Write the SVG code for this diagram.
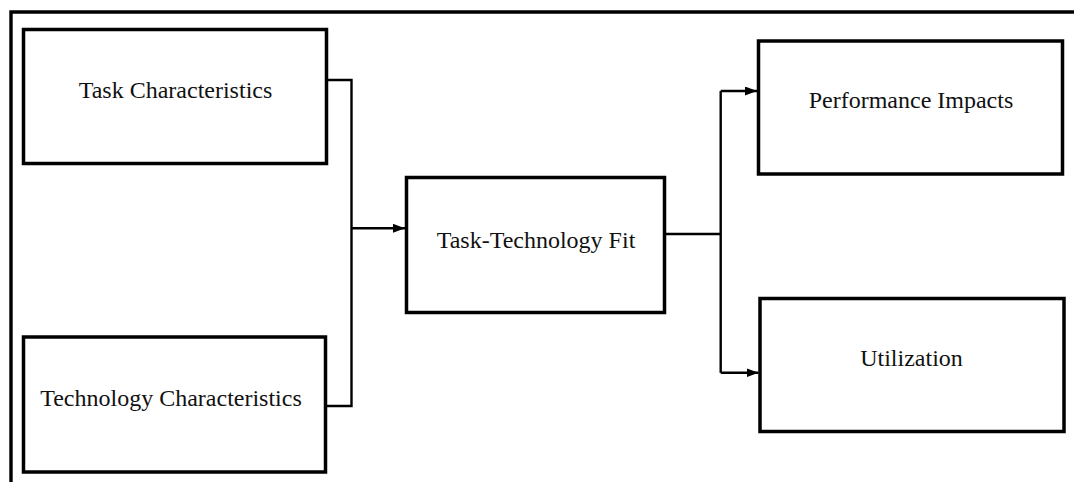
<svg xmlns="http://www.w3.org/2000/svg" width="1074" height="482" viewBox="0 0 1074 482">
<style>
.box{fill:#fff;stroke:#000;stroke-width:3.5}
.lbl{font-family:"Liberation Serif","Times New Roman",serif;font-size:24px;fill:#111;text-anchor:middle}
.con{fill:none;stroke:#000;stroke-width:2.4}
</style>
<defs>
<marker id="ah" markerWidth="12" markerHeight="9" refX="12" refY="4.5" orient="auto" markerUnits="userSpaceOnUse">
<path d="M0,0 L12,4.5 L0,9 Z" fill="#000"/>
</marker>
</defs>
<rect width="1074" height="482" fill="#fff"/>
<path d="M11,482 V12 H1074" fill="none" stroke="#000" stroke-width="3.4"/>
<g id="connectors">
<path class="con" d="M327,80 H351.5 V406 H327"/>
<path class="con" d="M351.5,228.3 H405" marker-end="url(#ah)"/>
<path class="con" d="M664,234 H720.7"/>
<path class="con" d="M720.7,91 V372.7"/>
<path class="con" d="M720.7,91 H757" marker-end="url(#ah)"/>
<path class="con" d="M720.7,372.7 H758.5" marker-end="url(#ah)"/>
</g>
<g id="task">
<rect class="box" x="23.5" y="29.5" width="303" height="134"/>
<text class="lbl" x="175.5" y="98">Task Characteristics</text>
</g>
<g id="technology">
<rect class="box" x="23.5" y="337" width="302" height="135"/>
<text class="lbl" x="171" y="406">Technology Characteristics</text>
</g>
<g id="ttf">
<rect class="box" x="406.5" y="177.5" width="258" height="135"/>
<text class="lbl" x="536" y="247.5">Task-Technology Fit</text>
</g>
<g id="performance">
<rect class="box" x="758.5" y="41" width="304" height="133"/>
<text class="lbl" x="911" y="108">Performance Impacts</text>
</g>
<g id="utilization">
<rect class="box" x="760" y="298.5" width="304" height="133"/>
<text class="lbl" x="911.5" y="366">Utilization</text>
</g>
</svg>
